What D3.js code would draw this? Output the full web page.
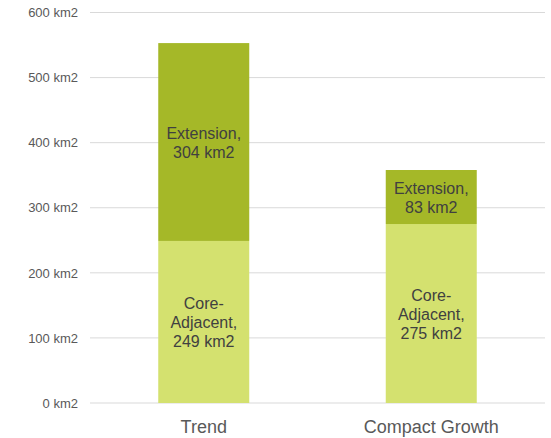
<!DOCTYPE html>
<html>
<head>
<meta charset="utf-8">
<script src="https://cdn.jsdelivr.net/npm/d3@7"></script>
<style>
  body { margin: 0; background: #fff; }
  svg { display: block; font-family: "Liberation Sans", Arial, sans-serif; }
</style>
</head>
<body>
<svg id="viz"></svg>
<script>
var categories = ["Trend", "Compact Growth"];
var seriesNames = ["Core-Adjacent", "Extension"];
var coreValues = [249, 275];
var extensionValues = [304, 83];
var yTicks = [0, 100, 200, 300, 400, 500, 600];
var seriesColors = ["#d4e16f", "#a5b828"];
// label lines per series (break after hyphen like the original)
var labelLines = [["Core-", "Adjacent,"], ["Extension,"]];

var width = 551, height = 438;
var margin = {top: 12.5, right: 6, bottom: 35, left: 90};

var svg = d3.select("#viz").attr("width", width).attr("height", height);

var x = d3.scaleBand()
    .domain(categories)
    .range([margin.left, width - margin.right])
    .paddingInner(0.6)
    .paddingOuter(0.3);

var y = d3.scaleLinear()
    .domain([0, 600])
    .range([height - margin.bottom, margin.top]);

// gridlines
svg.append("g").selectAll("line")
    .data(yTicks)
    .enter().append("line")
    .attr("x1", margin.left)
    .attr("x2", width - margin.right)
    .attr("y1", function(d) { return y(d); })
    .attr("y2", function(d) { return y(d); })
    .attr("stroke", "#d9d9d9")
    .attr("stroke-width", 1);

// y axis labels
var yAxis = svg.append("g")
    .attr("transform", "translate(" + (margin.left - 12) + ",0)")
    .call(d3.axisLeft(y).tickValues(yTicks).tickSize(0).tickPadding(0)
        .tickFormat(function(d) { return d + " km2"; }));
yAxis.select(".domain").remove();
yAxis.selectAll("text")
    .attr("fill", "#595959")
    .style("font-size", "13px")
    .style("font-family", "Liberation Sans, Arial, sans-serif");

// stacked data
var rows = categories.map(function(c, i) {
  return {category: c, core: coreValues[i], ext: extensionValues[i]};
});
var stack = d3.stack().keys(["core", "ext"])(rows);

var layer = svg.append("g").selectAll("g")
    .data(stack)
    .enter().append("g")
    .attr("fill", function(d, i) { return seriesColors[i]; });

layer.selectAll("rect")
    .data(function(d) { return d; })
    .enter().append("rect")
    .attr("x", function(d) { return x(d.data.category); })
    .attr("width", x.bandwidth())
    .attr("y", function(d) { return y(d[1]); })
    .attr("height", function(d) { return y(d[0]) - y(d[1]); });

// segment labels
stack.forEach(function(s, si) {
  s.forEach(function(d) {
    var lines = labelLines[si].concat([(d[1] - d[0]) + " km2"]);
    var cx = x(d.data.category) + x.bandwidth() / 2;
    var cy = (y(d[0]) + y(d[1])) / 2;
    var lh = 19;
    var t = svg.append("text")
        .attr("text-anchor", "middle")
        .attr("fill", "#404040")
        .style("font-size", "16px");
    lines.forEach(function(l, li) {
      t.append("tspan")
        .attr("x", cx)
        .attr("y", cy + (li - (lines.length - 1) / 2) * lh + 6)
        .text(l);
    });
  });
});

// category labels
svg.append("g").selectAll("text")
    .data(categories)
    .enter().append("text")
    .attr("x", function(d) { return x(d) + x.bandwidth() / 2; })
    .attr("y", height - margin.bottom + 30)
    .attr("text-anchor", "middle")
    .attr("fill", "#595959")
    .style("font-size", "18px")
    .text(function(d) { return d; });
</script>
</body>
</html>
